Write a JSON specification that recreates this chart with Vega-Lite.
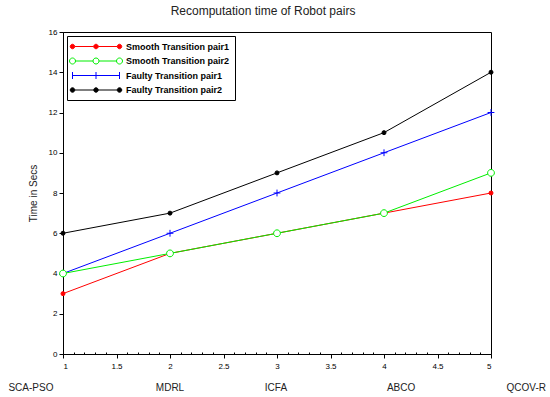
{
  "$schema": "https://vega.github.io/schema/vega-lite/v6.json",
  "autosize": "none",
  "width": 428,
  "height": 322,
  "padding": {"left": 63, "top": 32, "right": 59, "bottom": 43},
  "background": "white",
  "title": {
    "text": "Recomputation time of Robot pairs",
    "fontSize": 12,
    "fontWeight": "normal",
    "font": "Liberation Sans",
    "color": "#222222",
    "dx": -14,
    "offset": 10
  },
  "config": {
    "view": {"stroke": "black", "strokeWidth": 1},
    "font": "Liberation Sans",
    "axis": {
      "grid": false,
      "domainColor": "black",
      "tickColor": "black",
      "labelColor": "black",
      "labelFont": "Liberation Sans",
      "labelFontSize": 8,
      "titleFont": "Liberation Sans"
    }
  },
  "datasets": {
    "series": [
      {"x": 1, "series": "Faulty Transition pair2", "value": 6},
      {"x": 2, "series": "Faulty Transition pair2", "value": 7},
      {"x": 3, "series": "Faulty Transition pair2", "value": 9},
      {"x": 4, "series": "Faulty Transition pair2", "value": 11},
      {"x": 5, "series": "Faulty Transition pair2", "value": 14},
      {"x": 1, "series": "Faulty Transition pair1", "value": 4},
      {"x": 2, "series": "Faulty Transition pair1", "value": 6},
      {"x": 3, "series": "Faulty Transition pair1", "value": 8},
      {"x": 4, "series": "Faulty Transition pair1", "value": 10},
      {"x": 5, "series": "Faulty Transition pair1", "value": 12},
      {"x": 1, "series": "Smooth Transition pair1", "value": 3},
      {"x": 2, "series": "Smooth Transition pair1", "value": 5},
      {"x": 3, "series": "Smooth Transition pair1", "value": 6},
      {"x": 4, "series": "Smooth Transition pair1", "value": 7},
      {"x": 5, "series": "Smooth Transition pair1", "value": 8},
      {"x": 1, "series": "Smooth Transition pair2", "value": 4},
      {"x": 2, "series": "Smooth Transition pair2", "value": 5},
      {"x": 3, "series": "Smooth Transition pair2", "value": 6},
      {"x": 4, "series": "Smooth Transition pair2", "value": 7},
      {"x": 5, "series": "Smooth Transition pair2", "value": 9}
    ],
    "cats": [
      {"x": 0.70, "label": "SCA-PSO"},
      {"x": 2.0, "label": "MDRL"},
      {"x": 2.99, "label": "ICFA"},
      {"x": 4.16, "label": "ABCO"},
      {"x": 5.33, "label": "QCOV-R"}
    ]
  },
  "encoding": {
    "x": {
      "field": "x",
      "type": "quantitative",
      "scale": {"domain": [1, 5], "nice": false, "zero": false},
      "axis": {
        "title": null,
        "values": [1,1.1,1.2,1.3,1.4,1.5,1.6,1.7,1.8,1.9,2,2.1,2.2,2.3,2.4,2.5,2.6,2.7,2.8,2.9,3,3.1,3.2,3.3,3.4,3.5,3.6,3.7,3.8,3.9,4,4.1,4.2,4.3,4.4,4.5,4.6,4.7,4.8,4.9,5],
        "format": "~g",
        "labelExpr": "abs(datum.value*2 - round(datum.value*2)) < 0.01 ? datum.label : ''",
        "tickSize": {"condition": {"test": "abs(datum.value*2 - round(datum.value*2)) < 0.01", "value": 4}, "value": -2},
        "labelPadding": 4
      }
    }
  },
  "layer": [
    {
      "data": {"name": "series"},
      "mark": {"type": "line", "strokeWidth": 1},
      "encoding": {
        "y": {
          "field": "value",
          "type": "quantitative",
          "scale": {"domain": [0, 16], "nice": false},
          "axis": {
            "title": "Time in Secs",
            "titleFontSize": 10,
            "titleFontWeight": "normal",
            "titleColor": "#222222",
            "titlePadding": 10,
            "values": [0,1,2,3,4,5,6,7,8,9,10,11,12,13,14,15,16],
            "labelExpr": "datum.value % 2 == 0 ? datum.label : ''",
            "tickSize": {"condition": {"test": "datum.value % 2 == 0", "value": 4}, "value": 2},
            "labelPadding": 2
          }
        },
        "stroke": {
          "field": "series",
          "type": "nominal",
          "scale": {
            "domain": ["Smooth Transition pair1", "Smooth Transition pair2", "Faulty Transition pair1", "Faulty Transition pair2"],
            "range": ["#ff0000", "#00ee00", "#0000ff", "#000000"]
          },
          "legend": null
        }
      }
    },
    {
      "data": {"name": "series"},
      "mark": {"type": "point", "filled": false, "strokeWidth": 1, "opacity": 1, "size": 16},
      "encoding": {
        "y": {"field": "value", "type": "quantitative"},
        "stroke": {
          "field": "series",
          "type": "nominal",
          "scale": {
            "domain": ["Smooth Transition pair1", "Smooth Transition pair2", "Faulty Transition pair1", "Faulty Transition pair2"],
            "range": ["#ff0000", "#00ee00", "#0000ff", "#000000"]
          },
          "legend": null
        },
        "fill": {
          "field": "series",
          "type": "nominal",
          "scale": {
            "domain": ["Smooth Transition pair1", "Smooth Transition pair2", "Faulty Transition pair1", "Faulty Transition pair2"],
            "range": ["#ff0000", "#ffffff", "#0000ff", "#000000"]
          },
          "legend": null
        },
        "shape": {
          "field": "series",
          "type": "nominal",
          "scale": {
            "domain": ["Smooth Transition pair1", "Smooth Transition pair2", "Faulty Transition pair1", "Faulty Transition pair2"],
            "range": ["circle", "M1.7,0A1.7,1.7 0 1,1 -1.7,0A1.7,1.7 0 1,1 1.7,0Z", "M-1.7,0H1.7M0,-1.7V1.7", "circle"]
          },
          "legend": null
        }
      }
    },
    {
      "data": {"name": "series"},
      "transform": [{"filter": "false"}],
      "mark": {"type": "point", "filled": false, "strokeWidth": 1, "opacity": 1, "size": 100},
      "encoding": {
        "y": {"field": "value", "type": "quantitative"},
        "stroke": {
          "field": "series",
          "type": "nominal",
          "title": null,
          "scale": {
            "domain": ["Smooth Transition pair1", "Smooth Transition pair2", "Faulty Transition pair1", "Faulty Transition pair2"],
            "range": ["#ff0000", "#00ee00", "#0000ff", "#000000"]
          }
        },
        "fill": {
          "field": "series",
          "type": "nominal",
          "title": null,
          "scale": {
            "domain": ["Smooth Transition pair1", "Smooth Transition pair2", "Faulty Transition pair1", "Faulty Transition pair2"],
            "range": ["#ff0000", "#ffffff", "#0000ff", "#000000"]
          }
        },
        "shape": {
          "field": "series",
          "type": "nominal",
          "title": null,
          "scale": {
            "domain": ["Smooth Transition pair1", "Smooth Transition pair2", "Faulty Transition pair1", "Faulty Transition pair2"],
            "range": [
              "M-0.55,0H3.25M4.15,0H7.95M-0.55,0A0.45,0.45 0 1,1 -1.45,0A0.45,0.45 0 1,1 -0.55,0ZM4.15,0A0.45,0.45 0 1,1 3.25,0A0.45,0.45 0 1,1 4.15,0ZM8.85,0A0.45,0.45 0 1,1 7.95,0A0.45,0.45 0 1,1 8.85,0Z",
              "M-0.4,0H3.1M4.3,0H7.8M-0.4,0A0.6,0.6 0 1,1 -1.6,0A0.6,0.6 0 1,1 -0.4,0ZM4.3,0A0.6,0.6 0 1,1 3.1,0A0.6,0.6 0 1,1 4.3,0ZM9,0A0.6,0.6 0 1,1 7.8,0A0.6,0.6 0 1,1 9,0Z",
              "M-1,0H8.4M-1,-0.7V0.7M3.7,-0.7V0.7M8.4,-0.7V0.7",
              "M-0.55,0H3.25M4.15,0H7.95M-0.55,0A0.45,0.45 0 1,1 -1.45,0A0.45,0.45 0 1,1 -0.55,0ZM4.15,0A0.45,0.45 0 1,1 3.25,0A0.45,0.45 0 1,1 4.15,0ZM8.85,0A0.45,0.45 0 1,1 7.95,0A0.45,0.45 0 1,1 8.85,0Z"
            ]
          },
          "legend": {
            "orient": "top-left",
            "offset": 4,
            "title": null,
            "strokeColor": "black",
            "fillColor": "white",
            "padding": 5,
            "symbolSize": 100,
            "symbolStrokeWidth": 1,
            "labelFont": "Liberation Sans",
            "labelFontSize": 9,
            "labelFontWeight": "bold",
            "labelColor": "black",
            "labelOffset": 43,
            "rowPadding": 3.5,
            "labelLimit": 300
          }
        }
      }
    },
    {
      "data": {"name": "cats"},
      "mark": {"type": "text", "fontSize": 10, "font": "Liberation Sans", "color": "#222222", "align": "center", "baseline": "middle"},
      "encoding": {
        "y": {"datum": -1.7},
        "text": {"field": "label", "type": "nominal"}
      }
    }
  ],
  "resolve": {"scale": {"stroke": "independent", "fill": "independent", "shape": "independent"}, "legend": {"stroke": "independent", "fill": "independent", "shape": "independent"}}
}
